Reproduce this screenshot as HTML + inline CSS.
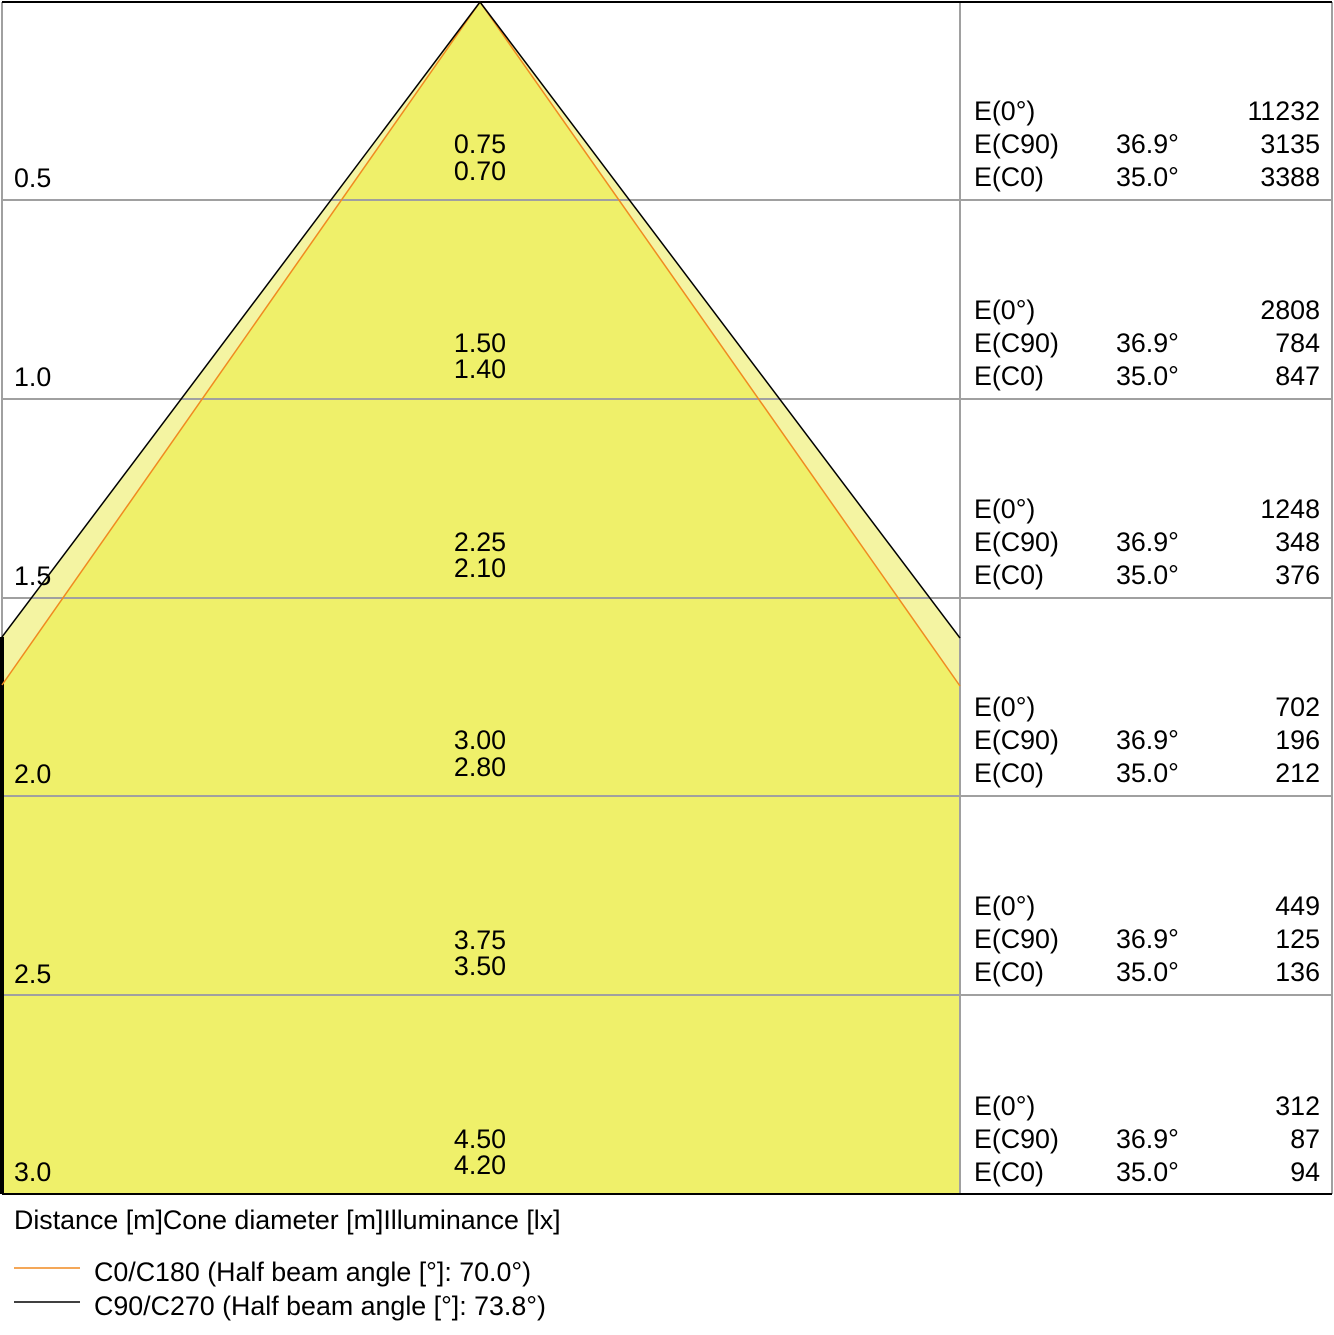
<!DOCTYPE html><html><head><style>body{margin:0;background:#fff}svg{display:block}text{font-family:"Liberation Sans",Arial,sans-serif;font-size:26.8px;fill:#000}</style></head><body>
<svg width="1334" height="1335" xmlns="http://www.w3.org/2000/svg">
<polygon points="480,2 960,638 960,1194 2,1194 2,637" fill="#f4f4a2"/>
<polygon points="480,2 960,686 960,1194 2,1194 2,685" fill="#eff06a"/>
<g stroke="#a0a0a0" stroke-width="2">
<line x1="2" y1="200" x2="1332" y2="200"/><line x1="2" y1="399" x2="1332" y2="399"/><line x1="2" y1="598" x2="1332" y2="598"/><line x1="2" y1="796" x2="1332" y2="796"/><line x1="2" y1="995" x2="1332" y2="995"/>
<line x1="960" y1="2" x2="960" y2="1194"/><line x1="1332" y1="2" x2="1332" y2="1194"/><line x1="2" y1="2" x2="2" y2="637"/>
</g>
<line x1="2" y1="2" x2="1332" y2="2" stroke="#000" stroke-width="2"/>
<line x1="2" y1="1194" x2="1332" y2="1194" stroke="#000" stroke-width="2"/>
<line x1="2" y1="637" x2="2" y2="1194" stroke="#000" stroke-width="4"/>
<polyline points="2,685 480,2 960,686" fill="none" stroke="#f08a20" stroke-width="1.5"/>
<polyline points="2,637 480,2 960,638" fill="none" stroke="#000" stroke-width="1.5"/>
<text x="14" y="187">0.5</text><text x="14" y="386">1.0</text><text x="14" y="585">1.5</text><text x="14" y="783">2.0</text><text x="14" y="983">2.5</text><text x="14" y="1181">3.0</text>
<g text-anchor="middle">
<text x="480" y="153">0.75</text><text x="480" y="180">0.70</text>
<text x="480" y="352">1.50</text><text x="480" y="378">1.40</text>
<text x="480" y="551">2.25</text><text x="480" y="577">2.10</text>
<text x="480" y="749">3.00</text><text x="480" y="776">2.80</text>
<text x="480" y="949">3.75</text><text x="480" y="975">3.50</text>
<text x="480" y="1148">4.50</text><text x="480" y="1174">4.20</text>
</g>
<g>
<text x="974" y="120">E(0°)</text><text x="974" y="153">E(C90)</text><text x="974" y="186">E(C0)</text>
<text x="1116" y="153">36.9°</text><text x="1116" y="186">35.0°</text>
<text x="974" y="319">E(0°)</text><text x="974" y="352">E(C90)</text><text x="974" y="385">E(C0)</text>
<text x="1116" y="352">36.9°</text><text x="1116" y="385">35.0°</text>
<text x="974" y="518">E(0°)</text><text x="974" y="551">E(C90)</text><text x="974" y="584">E(C0)</text>
<text x="1116" y="551">36.9°</text><text x="1116" y="584">35.0°</text>
<text x="974" y="716">E(0°)</text><text x="974" y="749">E(C90)</text><text x="974" y="782">E(C0)</text>
<text x="1116" y="749">36.9°</text><text x="1116" y="782">35.0°</text>
<text x="974" y="915">E(0°)</text><text x="974" y="948">E(C90)</text><text x="974" y="981">E(C0)</text>
<text x="1116" y="948">36.9°</text><text x="1116" y="981">35.0°</text>
<text x="974" y="1115">E(0°)</text><text x="974" y="1148">E(C90)</text><text x="974" y="1181">E(C0)</text>
<text x="1116" y="1148">36.9°</text><text x="1116" y="1181">35.0°</text>
</g>
<g text-anchor="end">
<text x="1320" y="120">11232</text><text x="1320" y="153">3135</text><text x="1320" y="186">3388</text>
<text x="1320" y="319">2808</text><text x="1320" y="352">784</text><text x="1320" y="385">847</text>
<text x="1320" y="518">1248</text><text x="1320" y="551">348</text><text x="1320" y="584">376</text>
<text x="1320" y="716">702</text><text x="1320" y="749">196</text><text x="1320" y="782">212</text>
<text x="1320" y="915">449</text><text x="1320" y="948">125</text><text x="1320" y="981">136</text>
<text x="1320" y="1115">312</text><text x="1320" y="1148">87</text><text x="1320" y="1181">94</text>
</g>
<text x="14" y="1229">Distance [m]Cone diameter [m]Illuminance [lx]</text>
<line x1="14" y1="1268" x2="80" y2="1268" stroke="#f08a20" stroke-width="1.5"/>
<line x1="14" y1="1302" x2="80" y2="1302" stroke="#000" stroke-width="1.5"/>
<text x="94" y="1281">C0/C180 (Half beam angle [°]: 70.0°)</text>
<text x="94" y="1315">C90/C270 (Half beam angle [°]: 73.8°)</text>
</svg></body></html>
